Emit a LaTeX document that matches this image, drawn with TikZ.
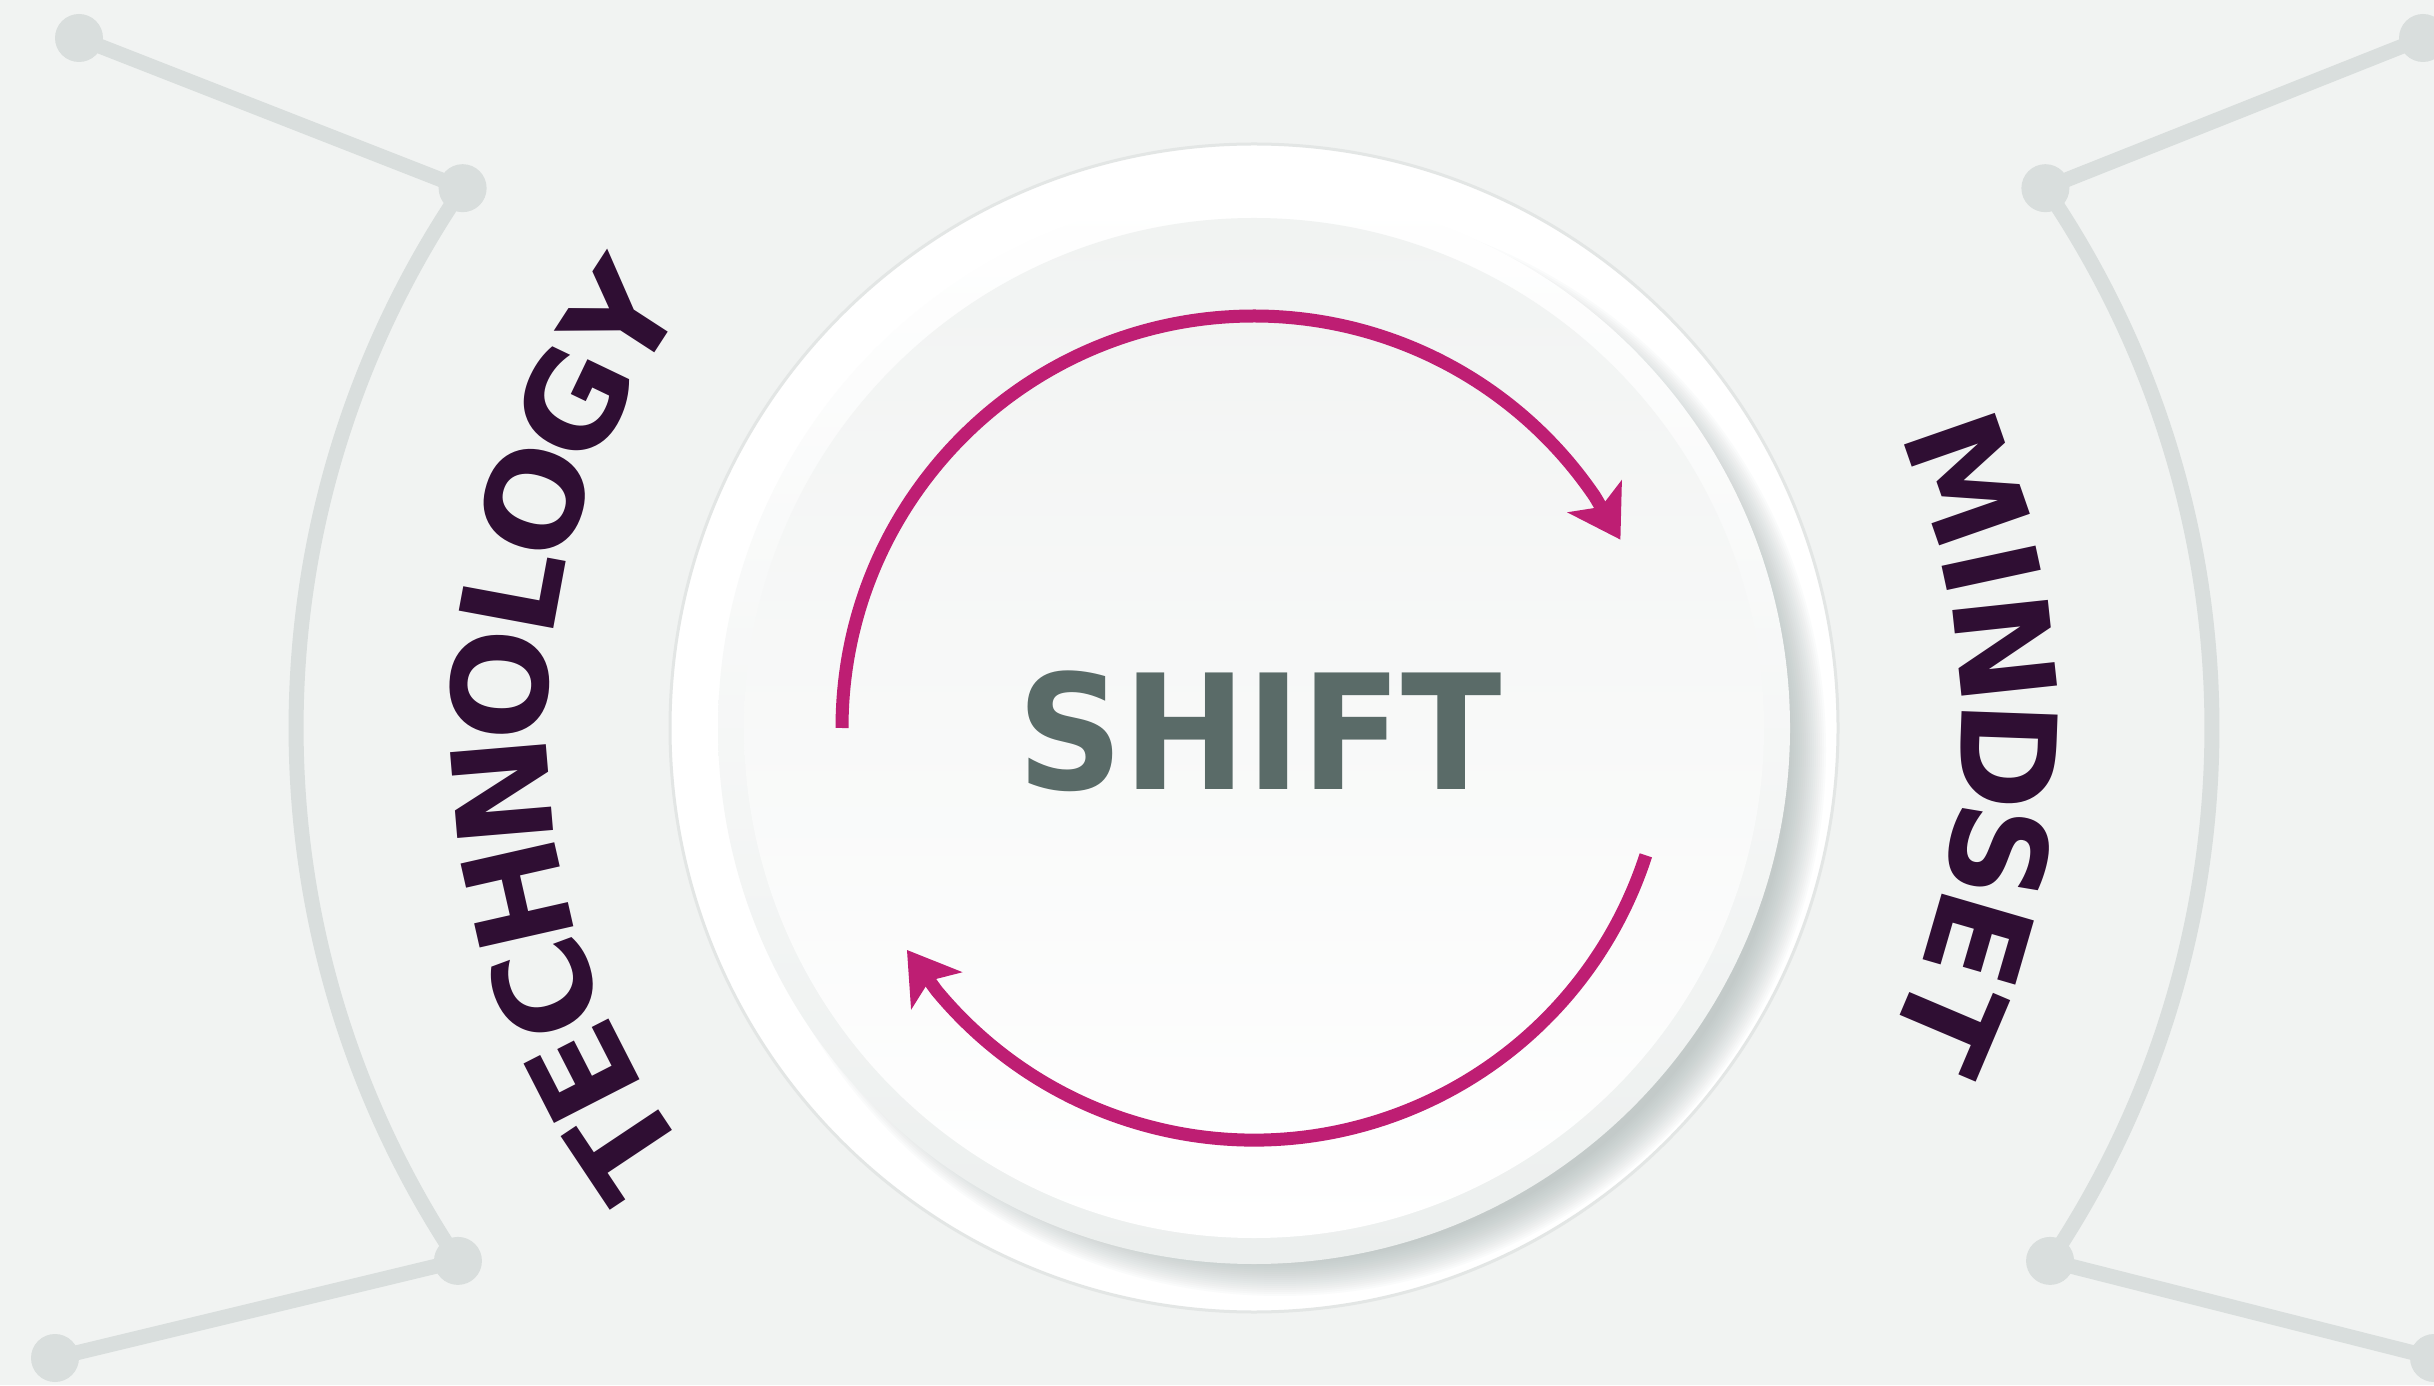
\documentclass[tikz,border=0pt]{standalone}
\usepackage{fontspec}
\newfontfamily\dejavu{DejaVu Sans}
\usepackage{tikz}
\usetikzlibrary{calc, arrows.meta}
\definecolor{paper}{HTML}{F1F3F2}
\definecolor{linkgray}{HTML}{D9DEDD}
\definecolor{rimgray}{HTML}{ECEFEE}
\definecolor{edgegray}{HTML}{E3E6E5}
\definecolor{shadowgray}{HTML}{9FADAB}
\definecolor{cyclered}{HTML}{BE1E73}
\definecolor{shiftgray}{HTML}{5A6B68}
\definecolor{wordpurple}{HTML}{2F0E33}
\tikzset{
    jointnode/.style = {circle, fill=linkgray, inner sep=0em, minimum size=0.48cm},
    linkline/.style = {draw=linkgray, line width=0.15cm},
    cyclearrow/.style = {draw=cyclered, line width=0.13cm,
      -{Stealth[length=0.5cm, width=0.62cm, inset=0.12cm]}},
    letternode/.style = {inner sep=0em, anchor=base, text=wordpurple,
      font=\dejavu\bfseries\fontsize{37.5}{40}\selectfont},
    titlenode/.style = {inner sep=0em, text=shiftgray,
      font=\dejavu\bfseries\fontsize{45.5}{50}\selectfont}
}

\begin{document}
\begin{tikzpicture}
\useasboundingbox (0,0) rectangle (24.34,13.85);
\fill[paper] (0,0) rectangle (24.34,13.85);
\coordinate (hub) at (12.54,6.57);

% side frames
\coordinate (jl1) at ($(hub)+(145.7:9.58)$);
\coordinate (jl2) at ($(hub)+(213.8:9.58)$);
\coordinate (jr1) at ($(hub)+(34.3:9.58)$);
\coordinate (jr2) at ($(hub)+(-33.8:9.58)$);
\coordinate (cl1) at (0.79,13.47);
\coordinate (cl2) at (0.55,0.27);
\coordinate (cr1) at (24.23,13.47);
\coordinate (cr2) at (24.34,0.27);

\draw[linkline] (cl1) -- (jl1) arc[start angle=145.7, end angle=213.8, radius=9.58];
\draw[linkline] (cr1) -- (jr1) arc[start angle=34.3, end angle=-33.8, radius=9.58];
\foreach \j in {jl1,jl2,jr1,jr2}
    \node[jointnode, name=\j-dot] at (\j) {};
\draw[linkline, shorten <=0.16cm] (jl2) -- (cl2);
\draw[linkline, shorten <=-0.08cm] (jr2) -- (cr2);
\foreach \j in {cl1,cl2,cr1,cr2}
    \node[jointnode, name=\j-dot] at (\j) {};

% dial with its shadow
\fill[white] (hub) circle (5.84);
\foreach \r in {5.10,5.12,...,5.46}
    \fill[shadowgray, opacity=0.045] ($(hub)+(0.26,-0.22)$) circle (\r);
\shade[top color=white, bottom color=rimgray] (hub) circle (5.36);
\shade[top color=paper, bottom color=white] (hub) circle (5.10);
\draw[edgegray, line width=0.03cm] (hub) circle (5.84);

% turning arrows: arc, then a short chord for the tip
\coordinate (up-start) at ($(hub)+(180:4.12)$);
\coordinate (up-tip) at ($(hub)+(27.2:4.12)$);
\coordinate (down-start) at ($(hub)+(-18:4.12)$);
\coordinate (down-tip) at ($(hub)+(-147.4:4.12)$);
\draw[cyclearrow] (up-start) arc[start angle=180, end angle=34.2, radius=4.12] -- (up-tip);
\draw[cyclearrow] (down-start) arc[start angle=-18, end angle=-140.4, radius=4.12] -- (down-tip);

\node[titlenode, name=shift] at (12.60,6.54) {\scalebox{0.92}[1]{SHIFT}};

% words round the dial
\foreach \a/\ch [count=\i] in {213.7/T, 207.1/E, 200.3/C, 192.8/H, 184.8/N,
    176.7/O, 169.5/L, 162.4/O, 154.4/G, 147.0/Y}
    \node[letternode, name=tech\i, rotate=\a-90] at ($(hub)+(\a:7.07)$) {\ch};
\foreach \a/\ch [count=\i] in {19.2/M, 12.2/I, 6.1/N, -2.1/D, -9.5/S,
    -16.2/E, -23.0/T}
    \node[letternode, name=mind\i, rotate=\a-90] at ($(hub)+(\a:7.07)$) {\ch};
\end{tikzpicture}
\end{document}
